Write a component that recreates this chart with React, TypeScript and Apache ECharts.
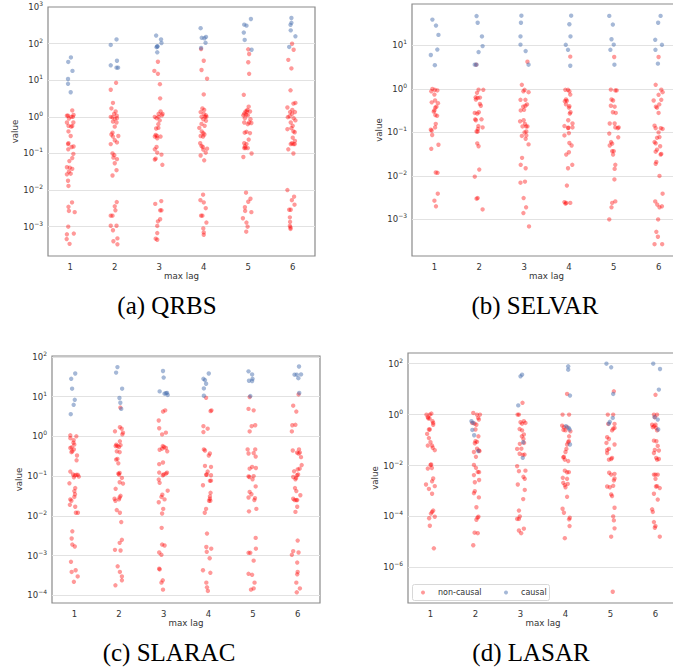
import React, { useEffect, useRef } from 'react';
import * as echarts from 'echarts';

// each point: [value, jitter (in lag units)]
type Pt = [number, number];

const LAGS = [1, 2, 3, 4, 5, 6];
const SERIES_NAMES = ['non-causal', 'causal'];
const CAPTIONS = ['(a) QRBS', '(b) SELVAR', '(c) SLARAC', '(d) LASAR'];
const X_LABEL = 'max lag';
const Y_LABEL = 'value';

// ---------------- (a) QRBS ----------------
const QRBS_CAUSAL: Pt[][] = [
  [[42, .015], [31.6, -.045], [18, .05], [10.8, -.05], [8, -.05], [4.7, .01]],
  [[130, .04], [92, -.09], [34, .05], [25.6, -.09], [22, .04], [22, .075]],
  [[166, -.07], [130, .04], [104, .05], [85, -.045], [80, -.06], [83, -.04], [58, -.045]],
  [[264, -.07], [144, -.045], [140, .015], [152, .05], [105, .04], [76, -.06]],
  [[470, .06], [330, -.09], [310, -.04], [200, -.1], [126, -.08], [68, .075]],
  [[500, -.03], [370, -.03], [325, -.05], [230, -.045], [158, .06], [81, -.08]],
];
const QRBS_NONCAUSAL: Pt[][] = [
  [[1.5, .045], [1.08, -.075], [1.08, -.05], [1.13, .075], [1.0, .02], [1.0, .06], [0.7, -.075], [0.9, -.03], [0.7, .07], [0.57, -.04], [0.54, .02], [0.56, .045], [0.4, -.04], [0.3, .01], [0.19, -.04], [0.18, -.05], [0.155, .075], [0.15, .03], [0.13, -.045], [0.097, .07], [0.075, .045], [0.062, -.02], [0.042, -.075], [0.041, -.01], [0.038, .045], [0.032, -.03], [0.027, -.075], [0.028, .01], [0.018, -.05], [0.013, -.04], [4.6e-3, .04], [3.5e-3, -.04], [2.7e-3, -.03], [2.5e-3, .1], [1e-3, -.045], [6.2e-4, -.075], [6.5e-4, .08], [4.6e-4, -.08], [3.4e-4, -.015]],
  [[8.5, .03], [5.5, -.09], [2.4, -.04], [1.7, -.075], [1.4, .02], [1.2, -.015], [1.08, .045], [1.0, -.09], [0.97, -.05], [0.92, .05], [0.88, 0], [0.74, -.04], [0.7, .04], [0.54, 0], [0.37, -.05], [0.33, -.075], [0.29, -.04], [0.3, .08], [0.23, 0], [0.2, .05], [0.18, -.09], [0.1, -.05], [0.09, -.01], [0.077, -.03], [0.07, .05], [0.054, 0], [0.035, .04], [0.025, -.05], [4.7e-3, .045], [3.6e-3, 0], [2.8e-3, .015], [2e-3, -.09], [2e-3, -.05], [1.06e-3, -.09], [1.06e-3, .04], [8e-4, -.04], [4e-4, -.03], [4.8e-4, .06], [3.3e-4, .06]],
  [[32, -.03], [18, -.11], [15, -.03], [7.8, .015], [3.2, .02], [1.4, .03], [1.2, -.015], [1.2, .075], [1.1, .06], [1.0, -.1], [1.0, -.015], [0.92, -.06], [0.8, .01], [0.63, -.02], [0.5, -.02], [0.48, -.07], [0.32, -.08], [0.29, -.1], [0.3, -.05], [0.29, .03], [0.26, -.045], [0.15, -.06], [0.13, -.1], [0.105, -.045], [0.093, .05], [0.072, -.08], [0.068, -.1], [0.049, .07], [4.2e-3, -.09], [5e-3, .045], [2.8e-3, .02], [2.8e-3, .05], [1.6e-3, .02], [1.4e-3, -.03], [1.05e-3, -.045], [6.7e-4, -.045], [4.7e-4, -.08], [4.4e-4, -.045]],
  [[71, -.06], [34, 0], [19, -.05], [11, .075], [4.1, 0], [1.7, -.03], [1.55, .01], [1.35, -.07], [1.2, 0], [1.1, .05], [1.0, -.05], [1.0, .06], [1.0, .03], [0.86, -.01], [0.78, .05], [0.64, -.05], [0.57, .02], [0.5, -.1], [0.4, -.045], [0.36, -.01], [0.33, .015], [0.3, -.07], [0.29, -.015], [0.19, -.08], [0.16, -.05], [0.15, -.02], [0.135, .075], [0.127, -.01], [0.105, .045], [0.088, -.07], [0.065, .01], [7.5e-3, -.015], [5.3e-3, -.075], [4.6e-3, 0], [3.2e-3, .045], [2e-3, -.03], [2e-3, -.06], [1.3e-3, .06], [9e-4, -.01], [7e-4, 0], [6e-4, 0]],
  [[70, 0], [52, .02], [31, 0], [15, .02], [4, -.1], [1.9, .01], [1.55, -.02], [1.4, -.06], [1.4, -.03], [1.4, .04], [1.23, -.09], [1.15, -.045], [1.1, -.11], [1.1, -.01], [0.92, -.075], [0.86, .05], [0.7, -.09], [0.7, .02], [0.63, -.01], [0.68, .07], [0.37, -.08], [0.39, -.04], [0.36, .04], [0.24, .01], [0.19, -.09], [0.18, -.04], [0.155, -.075], [0.14, -.09], [0.14, -.06], [0.14, -.01], [0.1, .075], [0.08, -.11], [8.5e-3, -.05], [5.8e-3, .05], [4.8e-3, 0], [3.4e-3, -.075], [2.7e-3, -.07], [2.5e-3, .07], [1.7e-3, -.12], [1.3e-3, -.04], [1e-3, -.015], [7.3e-4, -.045]],
  [[99, -.015], [68, .02], [36, -.1], [21, -.03], [5.3, -.05], [2.3, .015], [2.4, .06], [1.8, -.12], [1.55, -.01], [1.35, -.06], [1.35, .05], [1.2, -.015], [1.04, -.07], [0.98, -.11], [0.92, .02], [0.8, .06], [0.7, -.045], [0.57, 0], [0.46, -.12], [0.49, -.03], [0.4, .015], [0.38, .045], [0.27, 0], [0.22, .05], [0.19, -.02], [0.18, -.045], [0.18, .015], [0.18, .045], [0.13, -.1], [0.1, .015], [0.01, -.12], [6.6e-3, .03], [5.3e-3, -.02], [4e-3, .04], [2.9e-3, -.045], [2.9e-3, -.08], [1.8e-3, -.065], [1.35e-3, -.06], [1.05e-3, -.065], [8.7e-4, -.05], [9.5e-4, -.05]],
];

// ---------------- (b) SELVAR ----------------
const SELVAR_CAUSAL: Pt[][] = [
  [[39, -.045], [28.5, .035], [17.4, .09], [8, .065], [6, -.08], [3.5, .01]],
  [[47, -.06], [33, -.035], [16, .06], [9.6, .075], [7, -.015], [3.6, -.1], [3.6, -.06]],
  [[48, -.06], [33, -.07], [16, -.08], [10.4, -.08], [7.4, .035], [3.6, .1]],
  [[48, .05], [30.5, .01], [16, .035], [10.3, -.07], [7.9, -.02], [3.4, .03]],
  [[47.5, -.1], [30, -.02], [13.8, -.05], [10.4, 0], [7.9, -.075], [3.6, .015]],
  [[47.5, .045], [33, -.01], [13.4, -.075], [10.3, .075], [7.9, -.07], [3.8, -.015]],
];
const SELVAR_NONCAUSAL: Pt[][] = [
  [[1.0, -.045], [0.88, -.07], [0.95, .01], [0.92, .065], [0.74, 0], [0.49, -.06], [0.54, .015], [0.47, .08], [0.39, .045], [0.37, .02], [0.32, 0], [0.3, -.015], [0.25, .02], [0.24, .06], [0.157, .03], [0.13, .015], [0.115, -.08], [0.11, -.06], [0.087, -.05], [0.052, .09], [0.042, -.07], [0.012, .03], [0.0118, .07], [3.9e-3, .075], [2.7e-3, 0], [2e-3, .035]],
  [[3.6, -.07], [0.96, -.015], [0.95, .09], [0.81, -.05], [0.64, -.08], [0.62, -.035], [0.63, .015], [0.57, -.075], [0.45, .015], [0.41, .035], [0.28, -.1], [0.29, -.01], [0.27, -.045], [0.2, -.09], [0.19, -.075], [0.2, .05], [0.14, -.02], [0.13, .075], [0.12, -.03], [0.105, -.06], [0.105, -.035], [0.056, -.045], [0.048, -.015], [0.014, 0], [9.6e-3, -.1], [3.1e-3, -.035], [3e-3, -.06], [1.7e-3, .075]],
  [[4.2, .075], [1.24, -.05], [0.95, .01], [0.88, -.015], [0.84, .1], [0.56, -.08], [0.56, .03], [0.44, .065], [0.41, .03], [0.39, -.02], [0.32, -.075], [0.33, 0], [0.18, -.09], [0.19, -.01], [0.157, .02], [0.137, .045], [0.137, .075], [0.137, -.035], [0.105, .05], [0.1, .01], [0.085, .05], [0.083, -.05], [0.071, .035], [0.053, .1], [0.026, -.045], [0.018, -.075], [0.015, .035], [7e-3, -.08], [7.4e-3, .02], [3.1e-3, -.01], [1.9e-3, .045], [1.4e-3, -.015], [6.9e-4, .11]],
  [[5.5, .03], [0.95, -.08], [0.95, -.02], [0.88, .01], [0.74, .03], [0.57, -.065], [0.52, -.09], [0.53, -.045], [0.44, -.065], [0.4, .01], [0.37, 0], [0.29, .035], [0.27, .02], [0.19, -.015], [0.16, .08], [0.14, -.1], [0.126, -.02], [0.128, -.01], [0.13, .08], [0.085, -.1], [0.096, 0], [0.057, .01], [0.05, .06], [0.031, -.06], [0.035, 0], [0.018, .075], [0.015, -.02], [6e-3, -.045], [2.5e-3, -.1], [2.4e-3, -.06], [2.3e-3, -.075], [2.4e-3, .03]],
  [[5.4, .01], [0.96, -.065], [0.92, .035], [0.92, .065], [0.57, -.05], [0.54, -.015], [0.41, -.065], [0.39, .02], [0.29, -.02], [0.28, .045], [0.16, .02], [0.16, -.09], [0.13, .035], [0.125, .09], [0.13, .11], [0.094, -.1], [0.077, .1], [0.06, -.06], [0.055, -.035], [0.05, -.09], [0.037, -.035], [0.037, 0], [0.031, -.015], [0.018, .035], [0.0145, .02], [8.3e-3, .015], [2.6e-3, .035], [2.4e-3, -.035], [1.9e-3, -.05], [1e-3, -.1]],
  [[5.4, 0], [1.24, -.065], [0.96, .06], [0.84, .09], [0.54, -.11], [0.73, 0], [0.56, .06], [0.44, .015], [0.39, -.06], [0.37, -.035], [0.28, 0], [0.143, -.09], [0.125, -.065], [0.125, .05], [0.12, .09], [0.1, 0], [0.075, -.035], [0.078, .02], [0.06, -.09], [0.056, -.065], [0.048, .035], [0.04, -.035], [0.036, -.065], [0.031, .045], [0.032, .06], [0.021, -.05], [0.019, -.065], [0.01, .02], [2.6e-3, -.075], [2.2e-3, -.03], [1.9e-3, .02], [2e-3, .075], [3.9e-3, .09], [1e-3, -.01], [5.2e-4, -.05], [4e-4, -.015], [2.7e-4, -.09], [2.7e-4, .08]],
];

// ---------------- (c) SLARAC ----------------
const SLARAC_CAUSAL: Pt[][] = [
  [[38, .02], [28, -.07], [15.8, -.05], [8.3, .01], [6.2, -.015], [3.6, -.08]],
  [[55, -.035], [40, -.065], [15.8, .07], [9.2, .01], [7, .03], [4.9, .05]],
  [[44, -.015], [30, 0], [13.5, -.09], [11.8, .02], [12.4, .075], [11, .09], [12.2, .05]],
  [[38, .01], [28, -.11], [26, -.075], [21, -.05], [16, -.1], [10.5, -.1]],
  [[43, -.1], [36, -.02], [28, -.01], [25, -.09], [24.6, -.02], [10.3, -.06]],
  [[57, .03], [35.5, -.07], [35.5, -.02], [36, .075], [29, .015], [12.3, .035]],
];
const SLARAC_NONCAUSAL: Pt[][] = [
  [[1.06, -.09], [0.9, -.09], [1.0, .045], [0.8, -.015], [0.69, -.02], [0.62, 0], [0.53, -.06], [0.51, -.09], [0.47, -.01], [0.42, -.045], [0.4, -.065], [0.33, .06], [0.25, .05], [0.13, -.09], [0.11, -.03], [0.104, .01], [0.108, .045], [0.108, .08], [0.093, -.01], [0.097, .1], [0.066, -.11], [0.05, .02], [0.042, 0], [0.035, .015], [0.03, 0], [0.026, -.09], [0.024, -.065], [0.019, -.1], [0.017, .02], [0.012, .035], [0.012, .08], [4.1e-3, -.045], [2.7e-3, -.06], [1.9e-3, -.045], [1.7e-3, .01], [7e-4, -.075], [4.3e-4, .03], [3.9e-4, -.06], [3e-4, .075], [2.2e-4, -.01]],
  [[5.3, .03], [1.7, .02], [1.56, .06], [1.34, -.09], [1.24, .09], [1.12, .075], [0.75, .02], [0.62, -.06], [0.57, -.035], [0.57, -.075], [0.6, .035], [0.54, 0], [0.42, -.05], [0.4, .015], [0.27, -.035], [0.26, -.065], [0.21, -.015], [0.12, .015], [0.115, -.015], [0.11, 0], [0.09, .065], [0.07, .015], [0.065, .09], [0.048, -.075], [0.032, .035], [0.029, .015], [0.027, -.1], [0.026, 0], [0.024, -.08], [0.014, -.05], [0.012, .02], [7e-3, .05], [2.5e-3, .065], [2.1e-3, .015], [1.4e-3, -.09], [1.35e-3, .035], [5.4e-4, -.03], [3.9e-4, .02], [3e-4, .065], [2.4e-4, .065], [1.8e-4, -.08]],
  [[4.2, -.015], [4.5, .035], [2.5, -.11], [1.6, -.1], [1.24, .05], [1.12, -.035], [0.46, -.09], [0.57, -.02], [0.49, -.035], [0.54, .01], [0.51, .05], [0.42, .08], [0.2, -.1], [0.22, -.015], [0.123, -.1], [0.082, -.11], [0.068, -.09], [0.105, -.02], [0.11, 0], [0.115, .05], [0.122, .075], [0.034, -.03], [0.03, -.05], [0.026, .02], [0.022, -.11], [0.043, .09], [0.015, -.01], [0.0115, -.035], [5e-3, -.045], [1.9e-3, -.035], [1.8e-3, .02], [1.2e-3, -.1], [1.05e-3, -.05], [4.7e-4, -.1], [4.5e-4, -.09], [2.4e-4, -.02], [2.1e-4, -.05], [1.4e-4, -.015]],
  [[9.3, -.05], [4.5, .07], [4.3, .05], [1.8, -.11], [1.56, -.015], [1.28, -.11], [0.47, -.1], [0.44, -.075], [0.37, .035], [0.33, .01], [0.18, -.075], [0.17, .06], [0.13, -.015], [0.108, -.05], [0.11, -.035], [0.105, .06], [0.076, .035], [0.077, .06], [0.059, -.12], [0.038, .05], [0.031, .035], [0.027, .035], [0.024, .015], [0.024, .045], [0.015, -.05], [0.012, -.08], [3.6e-3, -.03], [1.65e-3, -.045], [1.5e-3, .065], [1.25e-3, -.035], [8.6e-4, .03], [4.3e-4, -.12], [3.7e-4, .045], [2.1e-4, -.045], [1.6e-4, -.03], [1.3e-4, -.01]],
  [[9.7, -.075], [4.9, -.1], [4.5, .015], [1.9, .05], [1.8, -.03], [1.33, -.075], [0.47, -.12], [0.47, .05], [0.38, .015], [0.37, -.1], [0.31, .06], [0.154, -.075], [0.17, -.02], [0.16, .065], [0.098, -.1], [0.1, .015], [0.095, -.08], [0.083, -.01], [0.055, .06], [0.04, -.075], [0.035, -.035], [0.029, -.1], [0.028, .045], [0.025, .03], [0.013, -.09], [0.015, .075], [2.8e-3, .06], [1.5e-3, .065], [1.18e-3, -.1], [1.18e-3, -.06], [7.5e-4, .015], [3.5e-4, -.1], [3.3e-4, -.02], [2.1e-4, .035], [1.5e-4, .015], [1.4e-4, -.045]],
  [[11.3, .02], [5.9, -.1], [4.2, -.03], [1.9, -.12], [1.95, -.05], [1.33, -.13], [0.47, .03], [0.44, -.11], [0.37, .02], [0.39, -.015], [0.39, .05], [0.3, .075], [0.19, .09], [0.154, .045], [0.132, -.08], [0.147, 0], [0.095, -.1], [0.083, -.05], [0.11, .01], [0.105, -.015], [0.09, -.035], [0.05, -.06], [0.042, -.03], [0.027, -.1], [0.025, -.07], [0.025, -.03], [0.025, -.01], [0.033, .06], [0.017, -.01], [0.0126, -.05], [2.4e-3, 0], [1.3e-3, -.1], [1.05e-3, -.13], [1.2e-3, .02], [6.7e-4, -.01], [3.9e-4, 0], [3.4e-4, -.01], [2.1e-4, -.03], [1.5e-4, .05], [1.2e-4, -.02]],
];

// ---------------- (d) LASAR ----------------
const LASAR_CAUSAL: Pt[][] = [
  [],
  [[0.55, -.09], [0.47, -.05], [0.25, -.07], [0.155, -.03], [0.037, .06]],
  [[32, 0], [37, .035], [2.3, -.05], [0.082, .06], [0.02, .05]],
  [[79, .06], [58, .06], [5.6, .1], [0.35, .01], [0.3, .07], [0.26, .09], [0.067, .1]],
  [[100, -.09], [72, .015], [6.5, .06], [0.74, .05], [0.44, -.035], [0.52, -.015]],
  [[100, -.05], [62, .1], [9.6, .075], [0.79, -.02], [0.64, .05], [0.26, .06]],
];
const LASAR_NONCAUSAL: Pt[][] = [
  [[1.0, -.09], [1.0, -.015], [1.1, .02], [0.79, -.06], [0.7, -.02], [0.72, -.05], [0.55, .045], [0.47, .06], [0.4, .06], [0.26, -.035], [0.26, -.015], [0.175, -.075], [0.12, -.035], [0.082, 0], [0.061, -.06], [0.061, .035], [0.05, .05], [0.04, .095], [0.011, .015], [0.0105, 0], [8e-3, .03], [7.6e-3, -.06], [3.1e-3, .06], [2.4e-3, .035], [1.8e-3, -.1], [1.55e-3, .095], [1.2e-3, -.035], [7.8e-4, .035], [1.7e-4, .06], [1.5e-4, .035], [1.3e-4, .01], [8.5e-5, -.03], [9.7e-5, .095], [4.3e-5, -.015], [5.6e-6, .075]],
  [[1.16, -.05], [1.0, .03], [1.0, .1], [0.47, -.075], [0.44, -.02], [0.74, .06], [0.4, .02], [0.64, .075], [0.26, 0], [0.14, .065], [0.09, 0], [0.075, -.015], [0.085, .035], [0.046, .035], [0.034, -.035], [0.039, .075], [0.037, .09], [0.022, .01], [0.0106, -.035], [8.1e-3, .01], [5.6e-3, .05], [5.5e-3, .08], [4.2e-3, -.035], [2.7e-3, .08], [2.2e-3, -.015], [9.8e-4, -.015], [8.2e-4, -.035], [5.6e-4, .075], [2.3e-4, .02], [9.7e-5, .065], [9e-5, .045], [7.4e-5, .02], [2.3e-5, -.02], [2.2e-5, .05], [7.4e-6, -.05]],
  [[2.9, .045], [1.0, -.065], [1.0, -.035], [0.55, .075], [0.5, 0], [0.44, .035], [0.47, .11], [0.27, -.02], [0.24, .035], [0.165, .075], [0.14, .03], [0.11, .065], [0.077, .08], [0.071, -.015], [0.045, -.075], [0.046, .02], [0.029, -.02], [0.027, .09], [0.026, .05], [9.4e-3, -.075], [6e-3, -.035], [6.3e-3, .11], [3.6e-3, .065], [3e-3, .095], [1.8e-3, -.06], [1.1e-3, .095], [4.8e-4, .06], [1.7e-4, -.035], [1e-4, -.015], [8e-5, -.075], [8e-5, -.035], [2.8e-5, -.035], [2.2e-5, .015], [3.3e-5, .075]],
  [[6.5, .035], [1.0, -.065], [1.0, .08], [0.37, -.075], [0.32, -.035], [0.25, -.045], [0.32, .035], [0.24, 0], [0.22, .11], [0.14, .08], [0.082, .06], [0.067, .035], [0.09, .075], [0.045, .02], [0.034, 0], [0.022, -.035], [0.021, -.05], [0.017, -.015], [0.015, .06], [6.3e-3, -.015], [5.5e-3, .075], [5.4e-3, .035], [3.3e-3, -.06], [3e-3, .035], [2.1e-3, -.05], [1.7e-3, -.015], [1.9e-3, .05], [1.4e-3, 0], [5.9e-4, .035], [2e-4, -.065], [1.4e-4, -.035], [8.9e-5, .095], [7.7e-5, .08], [4.2e-5, .09], [1.4e-5, -.015]],
  [[8.2, .075], [1.0, -.06], [1.0, .06], [0.43, -.05], [0.43, .09], [0.28, .06], [0.24, .035], [0.3, .09], [0.13, -.075], [0.11, -.035], [0.077, -.09], [0.067, .09], [0.04, -.075], [0.045, -.035], [0.031, -.075], [0.02, .035], [0.017, -.035], [0.018, .015], [5.2e-3, -.03], [4.4e-3, .015], [4.7e-3, .09], [3.1e-3, .09], [2.6e-3, .075], [1.5e-3, -.075], [1.4e-3, -.015], [1.6e-3, .06], [7.3e-4, .015], [6.3e-4, .035], [2.2e-4, .09], [1e-4, .06], [7e-5, .075], [3.4e-5, .09], [1.6e-5, .015], [1.1e-7, .05]],
  [[6, 0], [1.0, -.035], [1.0, .035], [0.79, -.015], [0.4, -.075], [0.35, -.03], [0.4, 0], [0.3, .015], [0.32, -.06], [0.24, .035], [0.095, -.035], [0.09, .02], [0.059, .05], [0.041, -.015], [0.039, .075], [0.031, -.035], [0.02, .015], [0.017, .035], [0.018, .075], [4.4e-3, -.035], [4.4e-3, 0], [4.4e-3, .05], [3e-3, 0], [1.55e-3, .035], [1.5e-3, .01], [1.3e-3, .095], [7.8e-4, -.035], [4.6e-4, .05], [1.9e-4, -.075], [1.5e-4, -.06], [6e-5, -.035], [4.2e-5, 0], [3.6e-5, -.015], [1.6e-5, .095]],
];

// ---------------- layout / style ----------------
const RED = '#ff0000';
const BLUE = '#4c72b0';
const FONT = 'DejaVu Sans';
const TEXT = '#333333';

const PANELS = [
  { caption: CAPTIONS[0], nc: QRBS_NONCAUSAL, c: QRBS_CAUSAL, grid: { left: 48, top: 7, width: 267, height: 249 }, expMin: -3.8, expMax: 3, logBase: 10, nameGap: 22, cap: [167, 305] },
  { caption: CAPTIONS[1], nc: SELVAR_NONCAUSAL, c: SELVAR_CAUSAL, grid: { left: 412, top: 4, width: 269, height: 252 }, expMin: -3.84, expMax: 1.95, logBase: 10, nameGap: 24, cap: [535, 305] },
  { caption: CAPTIONS[2], nc: SLARAC_NONCAUSAL, c: SLARAC_CAUSAL, grid: { left: 52, top: 356, width: 268, height: 247 }, expMin: -4.19, expMax: 2.02, logBase: 10, nameGap: 23, cap: [169, 652] },
  { caption: CAPTIONS[3], nc: LASAR_NONCAUSAL, c: LASAR_CAUSAL, grid: { left: 408, top: 353, width: 270, height: 250 }, expMin: -7.4, expMax: 2.42, logBase: 100, nameGap: 23, cap: [531, 652] },
];

const toData = (groups: Pt[][]) =>
  groups.flatMap((pts, i) => pts.map(([v, j]) => [LAGS[i] + j, v]));

const fmtPow = (v: number) => {
  const e = Math.log10(v);
  const r = Math.round(e);
  if (Math.abs(e - r) > 0.02) return '';
  return `{b|10}{s|${r < 0 ? '\u2212' + -r : r}}`;
};

function buildOption() {
  const grid: any[] = [];
  const xAxis: any[] = [];
  const yAxis: any[] = [];
  const series: any[] = [];
  const graphic: any[] = [];

  PANELS.forEach((p, i) => {
    grid.push({
      ...p.grid,
      show: true,
      borderColor: '#8a8a8a',
      borderWidth: 1.2,
      backgroundColor: 'rgba(0,0,0,0)',
      outerBoundsMode: 'none',
      containLabel: false,
    });
    xAxis.push({
      type: 'value',
      gridIndex: i,
      min: 0.5,
      max: 6.5,
      axisLine: { show: false },
      axisTick: { show: false },
      splitLine: { show: false },
      axisLabel: {
        formatter: (v: number) => (Number.isInteger(v) ? String(v) : ''),
        margin: 6,
        fontSize: 8.5,
        fontFamily: FONT,
        color: TEXT,
      },
      name: X_LABEL,
      nameLocation: 'middle',
      nameGap: 14,
      nameTextStyle: { fontSize: 8.7, fontFamily: FONT, color: TEXT },
    });
    yAxis.push({
      type: 'log',
      logBase: p.logBase,
      gridIndex: i,
      min: Math.pow(10, p.expMin),
      max: Math.pow(10, p.expMax),
      axisLine: { show: false },
      axisTick: { show: false },
      splitLine: { show: true, showMinLine: false, showMaxLine: false, lineStyle: { color: '#e2e2e2', width: 1 } },
      minorSplitLine: { show: false },
      axisLabel: {
        formatter: fmtPow,
        margin: 5,
        color: TEXT,
        fontFamily: FONT,
        rich: {
          b: { fontSize: 8.5, fontFamily: FONT, color: TEXT, lineHeight: 13 },
          s: { fontSize: 6, fontFamily: FONT, color: TEXT, lineHeight: 13, verticalAlign: 'top' },
        },
      },
      name: Y_LABEL,
      nameLocation: 'middle',
      nameGap: p.nameGap,
      nameTextStyle: { fontSize: 8.7, fontFamily: FONT, color: TEXT },
    });
    series.push({
      type: 'scatter',
      name: SERIES_NAMES[0],
      xAxisIndex: i,
      yAxisIndex: i,
      data: toData(p.nc),
      symbol: 'circle',
      symbolSize: 4.4,
      itemStyle: { color: RED, opacity: 0.4 },
      silent: true,
    });
    series.push({
      type: 'scatter',
      name: SERIES_NAMES[1],
      xAxisIndex: i,
      yAxisIndex: i,
      data: toData(p.c),
      symbol: 'circle',
      symbolSize: 4.4,
      itemStyle: { color: BLUE, opacity: 0.5 },
      silent: true,
    });
    graphic.push({
      type: 'text',
      x: p.cap[0],
      y: p.cap[1],
      style: {
        text: p.caption,
        fontFamily: 'Liberation Serif',
        fontSize: 25,
        fill: '#000',
        align: 'center',
        verticalAlign: 'middle',
      },
    });
  });

  // legend inside panel (d)
  graphic.push(
    { type: 'rect', shape: { x: 412.5, y: 584.5, width: 137, height: 16, r: 2 }, style: { fill: '#fff', stroke: '#d8d8d8', lineWidth: 1 }, z: 10 },
    { type: 'circle', shape: { cx: 423, cy: 592.5, r: 2 }, style: { fill: RED, opacity: 0.4 }, z: 11 },
    { type: 'text', x: 438, y: 592.5, style: { text: SERIES_NAMES[0], fontFamily: FONT, fontSize: 8, fill: TEXT, verticalAlign: 'middle' }, z: 11 },
    { type: 'circle', shape: { cx: 506, cy: 592.5, r: 2 }, style: { fill: BLUE, opacity: 0.5 }, z: 11 },
    { type: 'text', x: 521, y: 592.5, style: { text: SERIES_NAMES[1], fontFamily: FONT, fontSize: 8, fill: TEXT, verticalAlign: 'middle' }, z: 11 },
  );

  return {
    animation: false,
    backgroundColor: '#ffffff',
    textStyle: { fontFamily: FONT },
    grid,
    xAxis,
    yAxis,
    series,
    graphic,
  };
}

export default function App() {
  const ref = useRef<HTMLDivElement>(null);
  useEffect(() => {
    if (!ref.current) return;
    const chart = echarts.init(ref.current, null, { renderer: 'svg' });
    chart.setOption(buildOption() as any);
    return () => chart.dispose();
  }, []);
  return (
    <div
      ref={ref}
      style={{ position: 'absolute', left: 0, top: 0, width: 673, height: 671, background: '#fff', overflow: 'hidden' }}
    />
  );
}
